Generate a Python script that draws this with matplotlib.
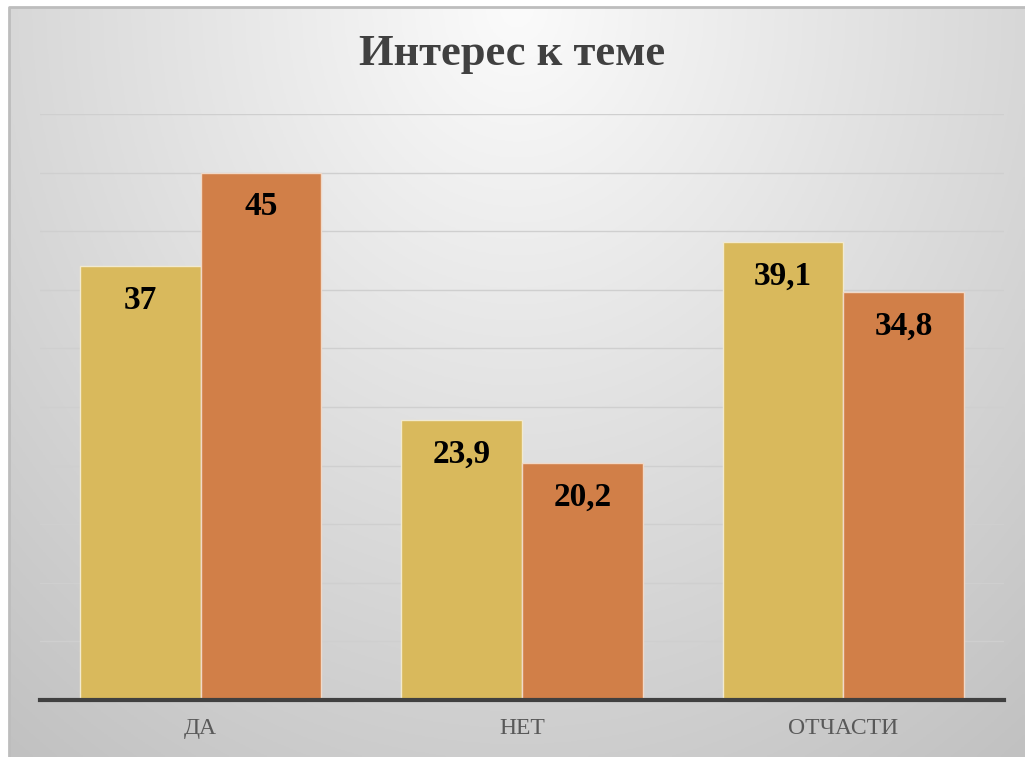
import numpy as np
import matplotlib
matplotlib.use("Agg")
import matplotlib.pyplot as plt

categories = ["ДА", "НЕТ", "ОТЧАСТИ"]
series_1 = [37, 23.9, 39.1]
series_2 = [45, 20.2, 34.8]

YELLOW = "#D9B95C"
ORANGE = "#D17F48"

plt.rcParams['font.family'] = ['Liberation Serif', 'DejaVu Serif']

W, H = 1025, 757
fig = plt.figure(figsize=(W / 100, H / 100), dpi=100)
fig.patch.set_facecolor('white')

# background: bright near the title, greying towards the edges
bg = fig.add_axes([0, 0, 1, 1], zorder=-10)
bg.set_xlim(0, 1)
bg.set_ylim(0, 1)
yy, xx = np.mgrid[0:1:300j, 0:1:300j]
rx = np.abs(xx - 0.5) / 0.5
shade = 0.985 - np.sqrt((0.14 * rx) ** 2 + (0.18 * yy) ** 2)
x0, y1 = 9 / W, 1 - 7 / H
bg.imshow(np.dstack([shade, shade, shade]), extent=[x0, 1, 0, y1], aspect='auto', origin='upper')
bg.plot([x0, x0, 1], [0, y1, y1], color='#bdbdbd', linewidth=2)
bg.set_xlim(0, 1)
bg.set_ylim(0, 1)
bg.set_axis_off()

ax = fig.add_axes([40 / W, 57 / H, 964 / W, 586 / H])
ax.patch.set_alpha(0)

x = np.arange(len(categories))
w = 0.376
b1 = ax.bar(x - w / 2, series_1, w, color=YELLOW, edgecolor="#f2ead0", linewidth=1, zorder=3)
b2 = ax.bar(x + w / 2, series_2, w, color=ORANGE, edgecolor="#f0d9c8", linewidth=1, zorder=3)

def fmt(v):
    return ("%g" % v).replace(".", ",")

for bars, vals in ((b1, series_1), (b2, series_2)):
    for rect, v in zip(bars, vals):
        ax.text(rect.get_x() + rect.get_width() / 2, v - 1.6, fmt(v),
                ha='center', va='top', fontsize=24, fontweight='bold', color='black', zorder=4)

ax.set_xlim(-0.5, 2.5)
ax.set_ylim(0, 50)
ax.set_yticks(np.arange(0, 51, 5))
ax.set_yticklabels([])
ax.tick_params(axis='y', length=0)
ax.grid(axis='y', color='#cfcfcf', linewidth=1, zorder=0)
ax.set_xticks(x)
ax.set_xticklabels(categories, fontsize=17, color='#595959')
ax.tick_params(axis='x', length=0, pad=13)
for s in ['top', 'right', 'left']:
    ax.spines[s].set_visible(False)
ax.spines['bottom'].set_color('#404040')
ax.spines['bottom'].set_linewidth(3)
ax.spines['bottom'].set_zorder(5)

fig.text(0.5, 1 - 54 / H, "Интерес к теме", ha='center', va='center',
         fontsize=32, fontweight='bold', color='#404040')

fig.savefig("out.png", dpi=100)
